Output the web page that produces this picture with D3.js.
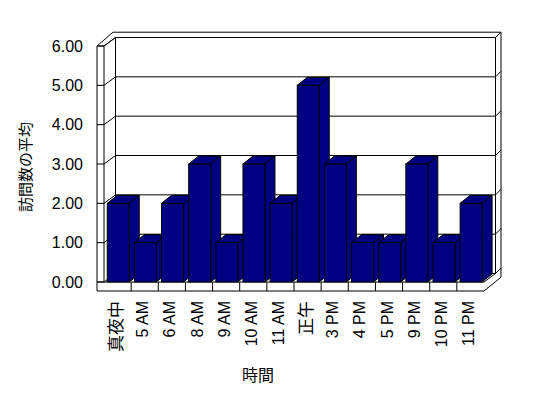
<!DOCTYPE html>
<html>
<head>
<meta charset="utf-8">
<script src="https://cdn.jsdelivr.net/npm/d3@7"></script>
<style>
  body { margin: 0; background: #fff; }
  svg { display: block; }
  text { font-family: "Liberation Sans", Arial, "Noto Sans CJK JP", sans-serif; fill: #000; }
</style>
</head>
<body>
<svg></svg>
<script>
// data
var hours = ["真夜中", "5 AM", "6 AM", "8 AM", "9 AM", "10 AM", "11 AM", "正午",
             "3 PM", "4 PM", "5 PM", "9 PM", "10 PM", "11 PM"];
var visits = [2, 1, 2, 3, 1, 3, 2, 5, 3, 1, 1, 3, 1, 2];
var yTicks = [0, 1, 2, 3, 4, 5, 6];
var xTitle = "時間";
var yTitle = "訪問数の平均";

function chart() {
    var width = 548,
        height = 398;

    var svg = d3.select("svg")
        .attr("width", width)
        .attr("height", height);
    svg.selectAll("*").remove();

    var x = d3.scaleBand().domain(hours).range([104, 484]);
    var y = d3.scaleLinear().domain([0, 6]).range([282, 46]);

    // depth offsets
    var dx = 11.5, dy = 8.5;     // front plane -> back wall inner face
    var ox = 17, oy = 13.8;      // front plane -> outer back edge
    var wallL = 97;              // outer face of left wall
    var floorB = 291;            // bottom of floor slab

    var line = function(pts) { return "M" + pts.map(function(p) { return p.join(","); }).join("L"); };
    var poly = function(pts) { return line(pts) + "Z"; };

    var g = svg.append("g")
        .attr("fill", "none")
        .attr("stroke", "#000")
        .attr("stroke-width", 1);

    var y0 = y(0), y6 = y(6);
    var xr = x.range()[1];

    // outline of the box
    g.append("path").attr("d", poly([
        [wallL, y6], [wallL + ox - 1, y6 - oy], [xr + ox, y6 - oy],
        [xr + ox, y0 - oy + 9], [xr, floorB], [wallL, floorB]
    ])).attr("fill", "#fff");

    // back wall inner face
    g.append("rect")
        .attr("x", x.range()[0] + dx).attr("y", y6 - dy)
        .attr("width", xr - x.range()[0]).attr("height", y0 - y6);

    // left wall front face and inner face
    g.append("path").attr("d", line([[104, y6], [104, y0]]));
    g.append("path").attr("d", line([[wallL, y6], [104, y6], [104 + dx, y6 - dy]]));

    // gridlines, left ticks and right wall ticks
    yTicks.forEach(function(t) {
        var yy = y(t);
        g.append("path").attr("d", line([[wallL, yy], [104, yy], [104 + dx, yy - dy], [xr + dx, yy - dy]]));
        g.append("path").attr("d", line([[xr + dx, yy - dy], [xr + ox, yy - dy - 5.5]]));
    });

    // floor slab front face
    g.append("path").attr("d", line([[wallL, y0], [xr, y0], [xr + dx, y0 - dy]]));
    hours.forEach(function(h, i) {
        if (i == 0) return;
        g.append("path").attr("d", line([[x(h), y0], [x(h), floorB]]));
    });

    // bars
    var bw = x.bandwidth() * 0.81,
        bo = x.bandwidth() * 0.12,
        bdx = 10, bdy = 8;

    var bar = svg.append("g")
        .attr("fill", "#000080")
        .attr("stroke", "#000")
        .attr("stroke-width", 1)
        .selectAll("g")
        .data(hours.map(function(h, i) { return {h: h, v: visits[i]}; }))
        .enter().append("g");

    bar.append("path").attr("d", function(d) {
        var l = x(d.h) + bo, r = l + bw, t = y(d.v);
        return poly([[r, t], [r + bdx, t - bdy], [r + bdx, y0 - bdy], [r, y0]]);
    });
    bar.append("path").attr("d", function(d) {
        var l = x(d.h) + bo, r = l + bw, t = y(d.v);
        return poly([[l, t], [l + bdx, t - bdy], [r + bdx, t - bdy], [r, t]]);
    });
    bar.append("rect")
        .attr("x", function(d) { return x(d.h) + bo; })
        .attr("y", function(d) { return y(d.v); })
        .attr("width", bw)
        .attr("height", function(d) { return y0 - y(d.v); });

    // y tick labels
    svg.append("g").selectAll("text")
        .data(yTicks)
        .enter().append("text")
        .attr("x", 83)
        .attr("y", function(d) { return y(d); })
        .attr("dy", "0.35em")
        .attr("text-anchor", "end")
        .style("font-size", "16px")
        .text(function(d) { return d.toFixed(2); });

    // x tick labels (CJK ones a touch larger, as in the original)
    svg.append("g").selectAll("text")
        .data(hours)
        .enter().append("text")
        .attr("transform", function(d) { return "translate(" + (x(d) + x.bandwidth() / 2 - 2) + ",301) rotate(-90)"; })
        .attr("dy", "0.35em")
        .attr("text-anchor", "end")
        .style("font-size", function(d) { return /[A-Z]/.test(d) ? "16px" : "17px"; })
        .text(function(d) { return d; });

    // axis titles
    svg.append("text")
        .attr("x", 258).attr("y", 375)
        .attr("dy", "0.35em")
        .attr("text-anchor", "middle")
        .style("font-size", "16px")
        .text(xTitle);

    svg.append("text")
        .attr("transform", "translate(26,167) rotate(-90)")
        .attr("dy", "0.35em")
        .attr("text-anchor", "middle")
        .style("font-size", "15px")
        .text(yTitle);
}

chart();
</script>
</body>
</html>
